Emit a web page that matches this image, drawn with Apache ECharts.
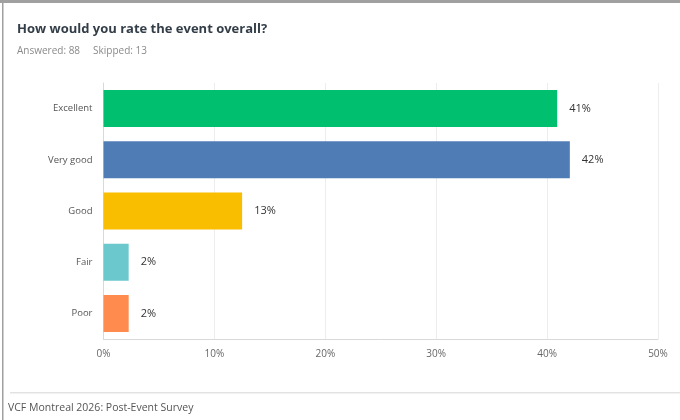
<!DOCTYPE html>
<html><head><meta charset="utf-8">
<script src="https://cdn.jsdelivr.net/npm/echarts@6/dist/echarts.min.js"></script>
<style>html,body{margin:0;padding:0;background:#fff}#c{width:680px;height:420px}</style>
</head><body><div id="c"></div>
<script>
const categories = ["Excellent", "Very good", "Good", "Fair", "Poor"];
const values = [40.91, 42.05, 12.50, 2.27, 2.27];
const colors = ["#00bf6f", "#507cb6", "#f9be00", "#6bc8cd", "#ff8b4f"];
const xTicks = [0, 10, 20, 30, 40, 50];
const titleText = "How would you rate the event overall?";
const subText = "Answered: 88     Skipped: 13";
const footerText = "VCF Montreal 2026: Post-Event Survey";

const chart = echarts.init(document.getElementById('c'), null, {renderer: 'canvas'});
const font = "'Open Sans', 'Noto Sans', sans-serif";
chart.setOption({
  animation: false,
  title: {
    text: titleText, left: 12, top: 18,
    textStyle: {fontFamily: font, fontSize: 13, fontWeight: 'bold', color: '#333e48'},
    subtext: subText, itemGap: 10,
    subtextStyle: {fontFamily: font, fontSize: 10, color: '#8a8a8a', whiteSpace: 'pre'}
  },
  grid: {left: 103.5, right: 22, top: 83, bottom: 81, containLabel: false},
  xAxis: {
    type: 'value', min: xTicks[0], max: xTicks[xTicks.length - 1], interval: 10,
    axisLine: {show: true, lineStyle: {color: '#d9d9d9'}},
    axisTick: {show: false},
    splitLine: {show: true, lineStyle: {color: '#ededed'}},
    axisLabel: {formatter: v => v + '%', color: '#666', fontFamily: font, fontSize: 10, margin: 10}
  },
  yAxis: {
    type: 'category', data: categories, inverse: true,
    axisLine: {show: true, lineStyle: {color: '#d9d9d9'}},
    axisTick: {show: false},
    axisLabel: {color: '#555', fontFamily: font, fontSize: 9.5, margin: 11}
  },
  series: [{
    type: 'bar',
    barWidth: 37,
    data: values.map((v, i) => ({value: v, itemStyle: {color: colors[i]}})),
    label: {
      show: true, position: 'right', distance: 12,
      formatter: p => Math.round(p.value) + '%',
      color: '#333', fontFamily: font, fontSize: 11
    }
  }],
  graphic: [
    {type: 'rect', shape: {x: 0, y: 0, width: 680, height: 3}, style: {fill: '#a0a0a0'}, silent: true},
    {type: 'rect', shape: {x: 2, y: 0, width: 1.5, height: 420}, style: {fill: '#a0a0a0'}, silent: true},
    {type: 'rect', shape: {x: 10, y: 392, width: 670, height: 1.5}, style: {fill: '#e3e3e3'}, silent: true},
    {type: 'text', left: 8, top: 403, style: {text: footerText, fill: '#555', font: "10.5px 'Open Sans', sans-serif"}}
  ]
});
</script></body></html>
